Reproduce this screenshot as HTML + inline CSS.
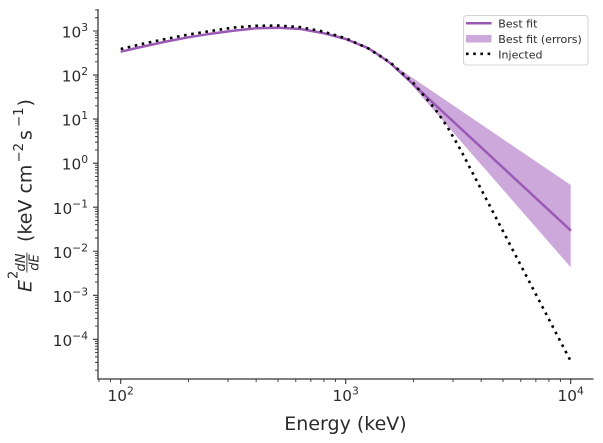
<!DOCTYPE html>
<html>
<head>
<meta charset="utf-8">
<style>
  html,body{margin:0;padding:0;background:#fff;}
  svg{display:block;}
  text{font-family:"DejaVu Sans","Liberation Sans",sans-serif;fill:#2b2b2b;}
</style>
</head>
<body>
<svg width="603" height="443" viewBox="0 0 603 443" xmlns="http://www.w3.org/2000/svg">
  <rect width="603" height="443" fill="#fff"/>

  <!-- error band -->
  <polygon fill="#cda9db" points="
    120.7,50.7 143.2,45.5 165.7,40.6 188.2,36.3 210.7,32.7 233.2,29.8 255.7,27.3 278.2,26.8 300.7,28.0 323.2,32.1 345.7,38.0 368.2,47.2 380,54.8 391,63.3
    570.7,185 570.7,267.3 405,77.3
    390.7,64.5 380,56.8 368.2,49.2 345.7,40.0 323.2,34.1 300.7,30.0 278.2,28.8 255.7,29.3 233.2,31.8 210.7,34.7 188.2,38.3 165.7,42.6 143.2,47.5 120.7,52.7"/>

  <!-- best fit line -->
  <polyline fill="none" stroke="#9b59b6" stroke-width="2.5" stroke-linejoin="round"
    points="120.7,51.7 143.2,46.5 165.7,41.6 188.2,37.3 210.7,33.7 233.2,30.8 255.7,28.3 278.2,27.8 300.7,29.0 323.2,33.1 345.7,39.0 368.2,48.2 380,55.8 390.7,63.5 571,230.7"/>

  <!-- injected dotted -->
  <polyline fill="none" stroke="#000" stroke-width="2.6" stroke-dasharray="2.6 4.6"
    points="120.7,49.0 143.2,43.7 165.7,38.9 188.2,34.6 210.7,31.0 233.2,27.6 255.7,25.8 278.2,25.6 300.7,27.2 323.2,31.5 345.7,38.3 368.2,48.4 390.7,62.8 413.2,82.8 435.7,109.8 447,126.4 458.2,145.5 462.7,153.9 570.7,361.1"/>

  <!-- spines -->
  <g stroke="#333" stroke-width="1.25" fill="none">
    <line x1="98" y1="9" x2="98" y2="379.6"/>
    <line x1="97.4" y1="379" x2="593.5" y2="379"/>
  </g>

  <!-- ticks -->
  <g stroke="#333" stroke-width="1.1" fill="none">
    <path d="M98 31h-5 M98 75.05h-5 M98 119.1h-5 M98 163.15h-5 M98 207.2h-5 M98 251.25h-5 M98 295.3h-5 M98 339.35h-5"/>
    <path stroke-width="0.9" d="
      M98 370.14h-3 M98 362.38h-3 M98 356.88h-3 M98 352.61h-3 M98 349.12h-3 M98 346.17h-3 M98 343.62h-3 M98 341.37h-3
      M98 326.09h-3 M98 318.33h-3 M98 312.83h-3 M98 308.56h-3 M98 305.07h-3 M98 302.12h-3 M98 299.57h-3 M98 297.32h-3
      M98 282.04h-3 M98 274.28h-3 M98 268.78h-3 M98 264.51h-3 M98 261.02h-3 M98 258.07h-3 M98 255.52h-3 M98 253.27h-3
      M98 237.99h-3 M98 230.23h-3 M98 224.73h-3 M98 220.46h-3 M98 216.97h-3 M98 214.02h-3 M98 211.47h-3 M98 209.22h-3
      M98 193.94h-3 M98 186.18h-3 M98 180.68h-3 M98 176.41h-3 M98 172.92h-3 M98 169.97h-3 M98 167.42h-3 M98 165.17h-3
      M98 149.89h-3 M98 142.13h-3 M98 136.63h-3 M98 132.36h-3 M98 128.87h-3 M98 125.92h-3 M98 123.37h-3 M98 121.12h-3
      M98 105.84h-3 M98 98.08h-3 M98 92.58h-3 M98 88.31h-3 M98 84.82h-3 M98 81.87h-3 M98 79.32h-3 M98 77.07h-3
      M98 61.79h-3 M98 54.03h-3 M98 48.53h-3 M98 44.26h-3 M98 40.77h-3 M98 37.82h-3 M98 35.27h-3 M98 33.02h-3
      M98 17.74h-3 M98 9.98h-3"/>
    <path d="M120.7 379v5 M345.7 379v5 M570.7 379v5"/>
    <path stroke-width="0.9" d="
      M98.9 379v3 M110.4 379v3
      M188.43 379v3 M228.05 379v3 M256.16 379v3 M277.97 379v3 M295.78 379v3 M310.85 379v3 M323.9 379v3 M335.4 379v3
      M413.43 379v3 M453.05 379v3 M481.16 379v3 M502.97 379v3 M520.78 379v3 M535.85 379v3 M548.9 379v3 M560.4 379v3"/>
  </g>

  <!-- y tick labels -->
  <g font-size="15.3" text-anchor="end">
    <text x="88" y="37.6">10<tspan dy="-6.5" font-size="10.7">3</tspan></text>
    <text x="88" y="81.6">10<tspan dy="-6.5" font-size="10.7">2</tspan></text>
    <text x="88" y="125.7">10<tspan dy="-6.5" font-size="10.7">1</tspan></text>
    <text x="88" y="169.7">10<tspan dy="-6.5" font-size="10.7">0</tspan></text>
    <text x="88" y="213.8">10<tspan dy="-6.5" font-size="10.7">−1</tspan></text>
    <text x="88" y="257.9">10<tspan dy="-6.5" font-size="10.7">−2</tspan></text>
    <text x="88" y="301.9">10<tspan dy="-6.5" font-size="10.7">−3</tspan></text>
    <text x="88" y="346">10<tspan dy="-6.5" font-size="10.7">−4</tspan></text>
  </g>

  <!-- x tick labels -->
  <g font-size="15.3" text-anchor="middle">
    <text x="120.7" y="401">10<tspan dy="-6.5" font-size="10.7">2</tspan></text>
    <text x="345.7" y="401">10<tspan dy="-6.5" font-size="10.7">3</tspan></text>
    <text x="570.7" y="401">10<tspan dy="-6.5" font-size="10.7">4</tspan></text>
  </g>

  <!-- x axis label -->
  <text x="345.5" y="430" font-size="19" text-anchor="middle">Energy (keV)</text>

  <!-- y axis label -->
  <g transform="translate(31.5,194) rotate(-90)">
    <text x="-98" y="0" font-size="19" font-style="italic">E</text>
    <text x="-85" y="-13.8" font-size="13">2</text>
    <text x="-68.5" y="-6.3" font-size="13" font-style="italic" text-anchor="middle">dN</text>
    <line x1="-78.5" y1="-4.6" x2="-58.5" y2="-4.6" stroke="#2b2b2b" stroke-width="0.9"/>
    <text x="-68.5" y="6.8" font-size="13" font-style="italic" text-anchor="middle">dE</text>
    <text x="-48" y="0" font-size="19">(keV cm</text>
    <text x="31.5" y="-8.5" font-size="13.3">−2</text>
    <text x="54" y="0" font-size="19">s</text>
    <text x="67" y="-8.5" font-size="13.3">−1</text>
    <text x="87.5" y="0" font-size="19">)</text>
  </g>

  <!-- legend -->
  <rect x="463.5" y="15.5" width="124.5" height="49.5" rx="3" ry="3" fill="#fff" fill-opacity="0.8" stroke="#d4d4d4" stroke-width="1"/>
  <line x1="466" y1="23.3" x2="491.5" y2="23.3" stroke="#9b59b6" stroke-width="2.5"/>
  <rect x="466" y="35" width="25.5" height="7.5" fill="#cda9db"/>
  <line x1="466" y1="53.8" x2="491.5" y2="53.8" stroke="#000" stroke-width="2.6" stroke-dasharray="2.6 4.6"/>
  <g font-size="11">
    <text x="498.3" y="27.7">Best fit</text>
    <text x="498.3" y="43.2">Best fit (errors)</text>
    <text x="498.3" y="58.5">Injected</text>
  </g>
</svg>
</body>
</html>
